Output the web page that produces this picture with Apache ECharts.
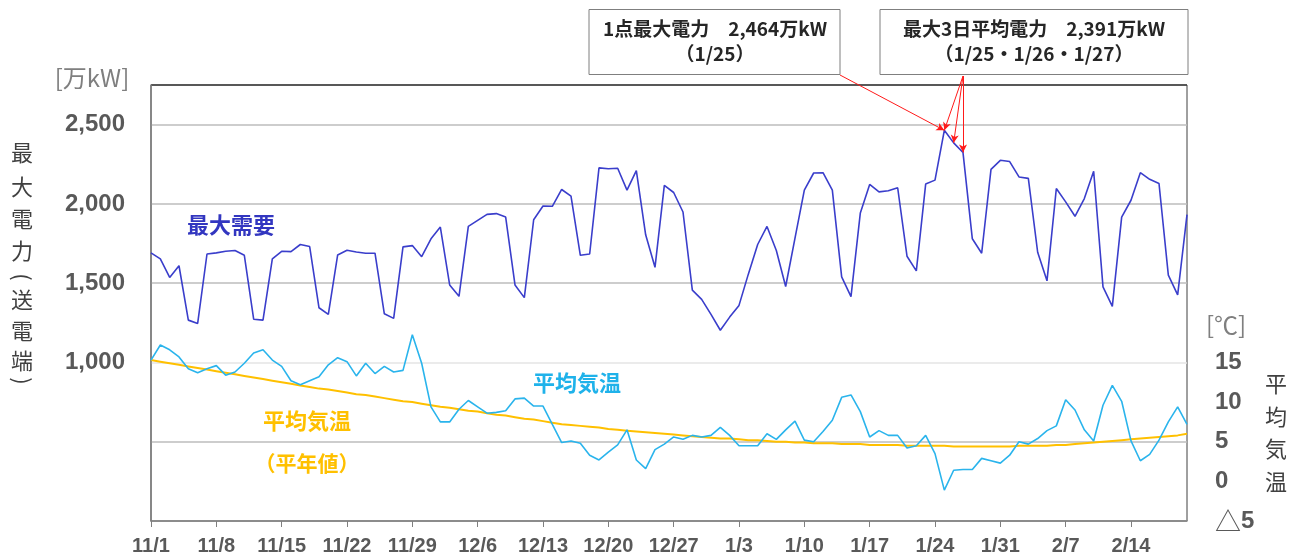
<!DOCTYPE html>
<html>
<head>
<meta charset="utf-8">
<script src="https://cdn.jsdelivr.net/npm/echarts@6/dist/echarts.min.js"></script>
<style>
html,body{margin:0;padding:0;background:#fff;}
#main{width:1299px;height:559px;}
</style>
</head>
<body>
<div id="main"></div>
<script>
// ---- data ----
const monthDays = [['11', 30], ['12', 31], ['1', 31], ['2', 20]];
const dates = [];
monthDays.forEach(function (m) { for (let d = 1; d <= m[1]; d++) dates.push(m[0] + '/' + d); });

const demand = [
  1691, 1653, 1536, 1610, 1267, 1246, 1684, 1691, 1701, 1706, 1676, 1273, 1267, 1653, 1701, 1699, 1744, 1731, 1345, 1303, 1678, 1708, 1697,
  1689, 1689, 1307, 1278, 1729, 1737, 1667, 1780, 1854, 1489, 1417, 1858, 1896, 1934, 1939, 1917, 1489, 1409, 1900, 1987, 1985, 2091,
  2049, 1676, 1684, 2227, 2222, 2225, 2087, 2210, 1805, 1600, 2117, 2072, 1949, 1456, 1398, 1303, 1203, 1286, 1360, 1557, 1744, 1858, 1706,
  1479, 1784, 2087, 2195, 2197, 2087, 1540, 1415, 1943, 2123, 2076, 2083, 2102, 1670, 1578, 2125, 2150, 2464, 2385, 2324, 1780, 1689,
  2218, 2275, 2267, 2170, 2161, 1695, 1515, 2097, 2013, 1922, 2034, 2206, 1477, 1354, 1917, 2023, 2197, 2155, 2129, 1551, 1426, 1932
];

const temperature = [
  15.3, 17.2, 16.6, 15.7, 14.2, 13.7, 14.2, 14.6, 13.4, 13.8, 14.9, 16.2, 16.6, 15.3, 14.5, 12.7, 12.2, 12.7, 13.2, 14.7, 15.6, 15.1, 13.3,
  14.9, 13.6, 14.5, 13.8, 14.0, 18.5, 14.9, 9.4, 7.5, 7.5, 9.1, 10.2, 9.4, 8.6, 8.7, 8.9, 10.4, 10.5, 9.5, 9.5, 7.2, 4.9,
  5.1, 4.8, 3.3, 2.7, 3.7, 4.6, 6.5, 2.7, 1.6, 4.0, 4.7, 5.6, 5.3, 5.8, 5.6, 5.8, 6.8, 5.8, 4.5, 4.5, 4.5, 6.0, 5.3,
  6.5, 7.6, 5.2, 5.0, 6.3, 7.7, 10.6, 10.9, 8.8, 5.6, 6.4, 5.8, 5.8, 4.2, 4.5, 5.8, 3.5, -1.1, 1.4, 1.5, 1.5, 2.9,
  2.6, 2.3, 3.3, 5.0, 4.7, 5.4, 6.4, 7.0, 10.3, 9.0, 6.5, 5.1, 9.6, 12.1, 10.1, 5.1, 2.6, 3.4, 5.2, 7.5, 9.4, 7.2
];

const normalTemp = [
  15.3, 15.1, 14.9, 14.7, 14.5, 14.3, 14.1, 13.9, 13.7, 13.5, 13.3, 13.1, 12.9, 12.7, 12.5, 12.3, 12.1, 11.9, 11.7, 11.6, 11.4, 11.2, 11.0,
  10.9, 10.7, 10.5, 10.3, 10.1, 10.0, 9.8, 9.6, 9.4, 9.3, 9.1, 8.9, 8.8, 8.6, 8.4, 8.3, 8.1, 7.9, 7.8, 7.6, 7.4, 7.2,
  7.1, 7.0, 6.9, 6.8, 6.6, 6.5, 6.4, 6.3, 6.2, 6.1, 6.0, 5.9, 5.8, 5.7, 5.6, 5.5, 5.4, 5.4, 5.3, 5.2, 5.2, 5.1, 5.0,
  5.0, 4.9, 4.9, 4.8, 4.8, 4.8, 4.7, 4.7, 4.7, 4.6, 4.6, 4.6, 4.6, 4.5, 4.5, 4.5, 4.5, 4.5, 4.4, 4.4, 4.4, 4.4,
  4.4, 4.4, 4.4, 4.5, 4.5, 4.5, 4.5, 4.6, 4.6, 4.7, 4.8, 4.9, 5.0, 5.1, 5.2, 5.3, 5.4, 5.5, 5.6, 5.7, 5.8, 6.0
];

const leftTickLabels = [1000, 1500, 2000, 2500];
const rightTickLabels = [-5, 0, 5, 10, 15];
const peakDate = '1/25';
const peakValue = 2464;
const avg3Dates = ['1/25', '1/26', '1/27'];

// ---- chart ----
const chart = echarts.init(document.getElementById('main'), null, {renderer: 'canvas'});
const numFont = '"Liberation Sans", Arial, sans-serif';
const jpFont = '"Noto Sans CJK JP", "Noto Sans", sans-serif';

function fmtNum(v) { return String(v).replace(/\B(?=(\d{3})+(?!\d))/g, ','); }

// [char, y, rotated]
const vText = [['最', 153, 0], ['大', 187, 0], ['電', 219, 0], ['力', 251, 0], ['(', 277, 1], ['送', 300, 0], ['電', 331, 0], ['端', 361, 0], [')', 381, 1]];
const rText = [['平', 384], ['均', 417], ['気', 449], ['温', 482]];

const graphics = [];
vText.forEach(function (c) {
  graphics.push({type: 'text', x: 22, y: c[1], rotation: c[2] ? -Math.PI / 2 : 0,
    style: {text: c[0], fontSize: 22, fontFamily: jpFont, fill: '#404040', align: 'center', verticalAlign: 'middle'}});
});
rText.forEach(function (c) {
  graphics.push({type: 'text', x: 1276, y: c[1], style: {text: c[0], fontSize: 22, fontFamily: jpFont, fill: '#404040', align: 'center', verticalAlign: 'middle'}});
});
graphics.push(
  {type: 'text', x: 92, y: 78, style: {text: '[万kW]', fontSize: 24, fontFamily: jpFont, fill: '#7f7f7f', align: 'center', verticalAlign: 'middle'}},
  {type: 'text', x: 1226, y: 325, style: {text: '[℃]', fontSize: 24, fontFamily: jpFont, fill: '#7f7f7f', align: 'center', verticalAlign: 'middle'}},
  {type: 'text', x: 231, y: 225, style: {text: '最大需要', fontSize: 22, fontWeight: 'bold', fontFamily: jpFont, fill: '#3236c0', align: 'center', verticalAlign: 'middle'}},
  {type: 'text', x: 577, y: 383, style: {text: '平均気温', fontSize: 22, fontWeight: 'bold', fontFamily: jpFont, fill: '#1fb2ea', align: 'center', verticalAlign: 'middle'}},
  {type: 'text', x: 307, y: 421, style: {text: '平均気温', fontSize: 22, fontWeight: 'bold', fontFamily: jpFont, fill: '#ffc000', align: 'center', verticalAlign: 'middle'}},
  {type: 'text', x: 307, y: 463, style: {text: '（平年値）', fontSize: 21, fontWeight: 'bold', fontFamily: jpFont, fill: '#ffc000', align: 'center', verticalAlign: 'middle'}},
  {type: 'rect', shape: {x: 589, y: 9.5, width: 251, height: 65}, style: {fill: '#fff', stroke: '#7f7f7f', lineWidth: 1}},
  {type: 'text', x: 715, y: 29, style: {text: '1点最大電力　' + fmtNum(peakValue) + '万kW', fontSize: 19, fontWeight: 'bold', fontFamily: jpFont, fill: '#262626', align: 'center', verticalAlign: 'middle'}},
  {type: 'text', x: 715, y: 54, style: {text: '（' + peakDate + '）', fontSize: 19, fontWeight: 'bold', fontFamily: jpFont, fill: '#262626', align: 'center', verticalAlign: 'middle'}},
  {type: 'rect', shape: {x: 880, y: 9.5, width: 308, height: 65}, style: {fill: '#fff', stroke: '#7f7f7f', lineWidth: 1}},
  {type: 'text', x: 1034, y: 29, style: {text: '最大3日平均電力　2,391万kW', fontSize: 19, fontWeight: 'bold', fontFamily: jpFont, fill: '#262626', align: 'center', verticalAlign: 'middle'}},
  {type: 'text', x: 1034, y: 54, style: {text: '（' + avg3Dates.join('・') + '）', fontSize: 19, fontWeight: 'bold', fontFamily: jpFont, fill: '#262626', align: 'center', verticalAlign: 'middle'}}
);

const option = {
  animation: false,
  backgroundColor: '#fff',
  grid: {left: 151, right: 112, top: 85, bottom: 38, show: true, borderColor: '#404040', borderWidth: 1},
  xAxis: {
    type: 'category', data: dates, boundaryGap: false,
    axisLine: {lineStyle: {color: '#7f7f7f', width: 1.5}},
    axisTick: {interval: 6, length: 6, lineStyle: {color: '#7f7f7f', width: 1}},
    axisLabel: {interval: 6, margin: 15, fontSize: 20, fontWeight: 'bold', color: '#595959', fontFamily: numFont},
    splitLine: {show: false}
  },
  yAxis: [
    {
      type: 'value', min: 0, max: 2750, interval: 500,
      axisLine: {show: true, lineStyle: {color: '#7f7f7f', width: 1.5}},
      axisTick: {show: false},
      axisLabel: {
        margin: 26, fontSize: 24, fontWeight: 'bold', color: '#595959', fontFamily: numFont,
        formatter: function (v) { return leftTickLabels.indexOf(v) >= 0 ? fmtNum(v) : ''; }
      },
      splitLine: {lineStyle: {color: ['#bcbcbc', '#bcbcbc', '#e4e4e4', '#bcbcbc', '#bcbcbc', '#bcbcbc', '#404040'], width: 1.5}}
    },
    {
      type: 'value', min: -5, max: 50, interval: 5, position: 'right',
      axisLine: {show: false}, axisTick: {show: false}, splitLine: {show: false},
      axisLabel: {
        margin: 28, fontSize: 24, fontWeight: 'bold', color: '#595959', fontFamily: numFont + ', "Noto Sans CJK JP"',
        formatter: function (v) {
          if (rightTickLabels.indexOf(v) < 0) return '';
          return v < 0 ? '{tri|△}' + Math.abs(v) : String(v);
        },
        rich: {tri: {fontSize: 26, fontWeight: 'normal', color: '#595959', fontFamily: jpFont}}
      }
    }
  ],
  series: [
    {
      name: '平均気温（平年値）', type: 'line', yAxisIndex: 1, data: normalTemp,
      symbol: 'none', lineStyle: {color: '#ffc000', width: 2}, silent: true, z: 2
    },
    {
      name: '平均気温', type: 'line', yAxisIndex: 1, data: temperature,
      symbol: 'none', lineStyle: {color: '#2ab4ec', width: 1.6}, silent: true, z: 3
    },
    {
      name: '最大需要', type: 'line', yAxisIndex: 0, data: demand,
      symbol: 'none', lineStyle: {color: '#3a3ecb', width: 1.6}, silent: true, z: 4,
      markLine: {
        silent: true, animation: false,
        symbol: ['none', 'arrow'], symbolSize: [6, 8],
        lineStyle: {color: '#ff1a1a', width: 1, type: 'solid'},
        label: {show: false},
        emphasis: {disabled: true},
        data: [
          [{x: 840, y: 75}, {coord: [peakDate, peakValue]}],
          [{x: 963, y: 76}, {coord: [avg3Dates[0], demand[dates.indexOf(avg3Dates[0])]]}],
          [{x: 963, y: 76}, {coord: [avg3Dates[1], demand[dates.indexOf(avg3Dates[1])]]}],
          [{x: 963, y: 76}, {coord: [avg3Dates[2], demand[dates.indexOf(avg3Dates[2])]]}]
        ]
      }
    }
  ],
  graphic: graphics
};
chart.setOption(option);
</script>
</body>
</html>
